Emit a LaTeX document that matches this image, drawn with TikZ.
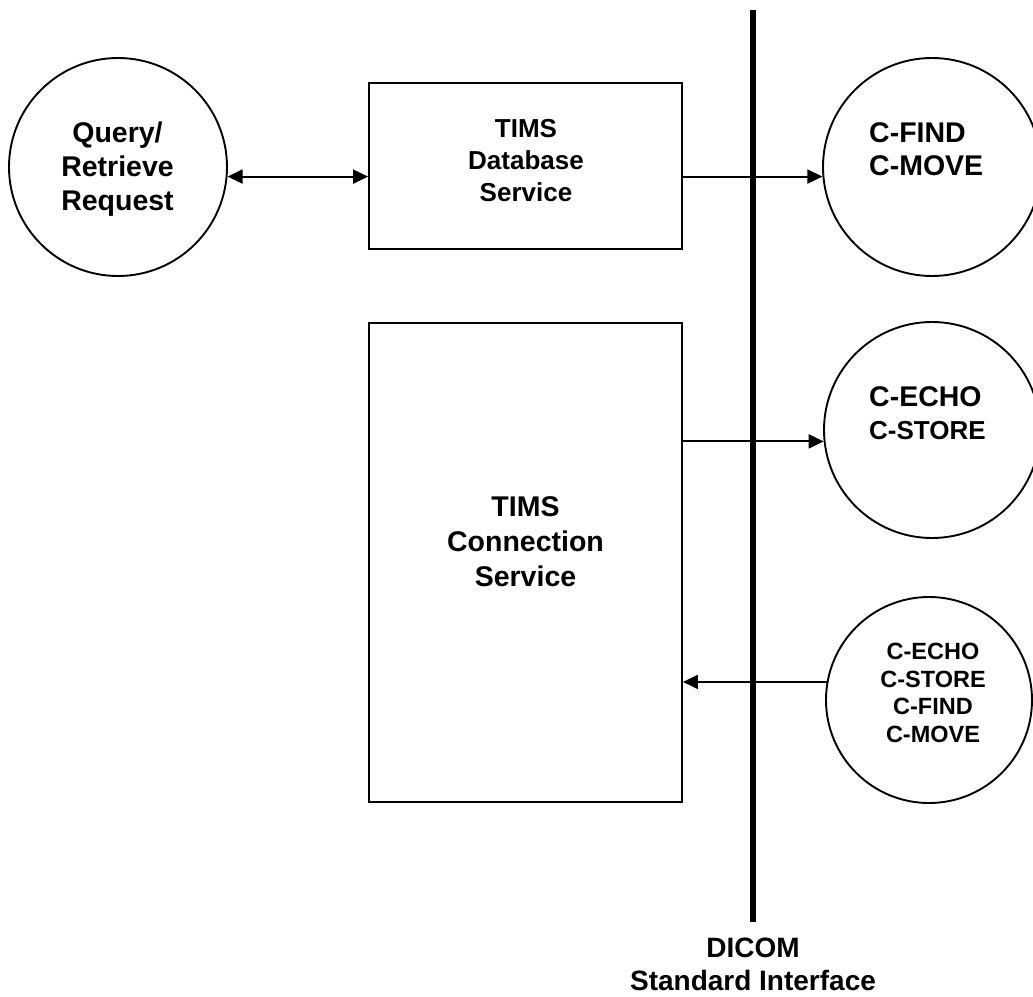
\documentclass[tikz,border=0pt]{standalone}
\usepackage{fontspec}
\setmainfont{Liberation Sans}
\usetikzlibrary{arrows.meta}
\begin{document}
\begin{tikzpicture}[x=1pt,y=-1pt,
  thinline/.style={line width=1.9pt},
  arr/.style={thinline,-{Triangle[length=15pt,width=14pt]}},
  darr/.style={thinline,{Triangle[length=15pt,width=14pt]}-{Triangle[length=15pt,width=14pt]}},
  circ/.style={circle,draw,line width=1.9pt,inner sep=0pt},
  boxn/.style={draw,line width=1.9pt,inner sep=0pt},
  txt/.style={inner sep=0pt,align=center,font=\bfseries\fontsize{28}{34}\selectfont},
  txtl/.style={inner sep=0pt,align=left,font=\bfseries\fontsize{28}{33}\selectfont}]
\useasboundingbox (0,0) rectangle (1033,996);
\clip (0,0) rectangle (1033,996);
% circles
\node[circ,minimum size=218pt] (qr) at (118,167) {};
\node[circ,minimum size=218pt] (cf) at (932,167) {};
\node[circ,minimum size=216pt] (ce) at (932,430) {};
\node[circ,minimum size=206pt] (all) at (929,700) {};
% boxes
\node[boxn,minimum width=313pt,minimum height=166pt] (db) at (525.5,166) {};
\node[boxn,minimum width=313pt,minimum height=479pt] (conn) at (525.5,562.5) {};
% texts
\node[txt,font=\bfseries\fontsize{28.5}{34}\selectfont] (qrt) at (117.5,169.5) {Query/\\Retrieve\\Request};
\node[txt,font=\bfseries\fontsize{26}{32}\selectfont] (dbt) at (526,161) {TIMS\\Database\\Service};
\node[txt,font=\bfseries\fontsize{28.5}{35}\selectfont] (connt) at (525.5,542) {TIMS\\Connection\\Service};
\node[txtl,anchor=west,font=\bfseries\fontsize{28.5}{33}\selectfont] (cft) at (869,149.5) {C-FIND\\C-MOVE};
\node[txtl,anchor=west] (cet) at (869,413) {{\fontsize{28.5}{32}\selectfont C-ECHO}\\{\fontsize{26}{32}\selectfont C-STORE}};
\node[txt,font=\bfseries\fontsize{23.5}{27.7}\selectfont] (allt) at (933,693) {C-ECHO\\C-STORE\\C-FIND\\C-MOVE};
% DICOM interface line
\coordinate (itop) at (753,10);
\coordinate (ibot) at (753,922);
\draw[line width=6pt] (itop) -- (ibot);
\node[txt,font=\bfseries\fontsize{28}{33}\selectfont] (dicom) at (753,964) {DICOM\\Standard Interface};
% connectors
\draw[darr] (qr.-5.8) -- (qr.-5.8 -| db.west);
\draw[arr] (cf.185.8 -| db.east) -- (cf.185.8);
\draw[arr] (ce.186.9 -| conn.east) -- (ce.186.9);
\draw[arr] (all.170.4) -- (all.170.4 -| conn.east);
\end{tikzpicture}
\end{document}
